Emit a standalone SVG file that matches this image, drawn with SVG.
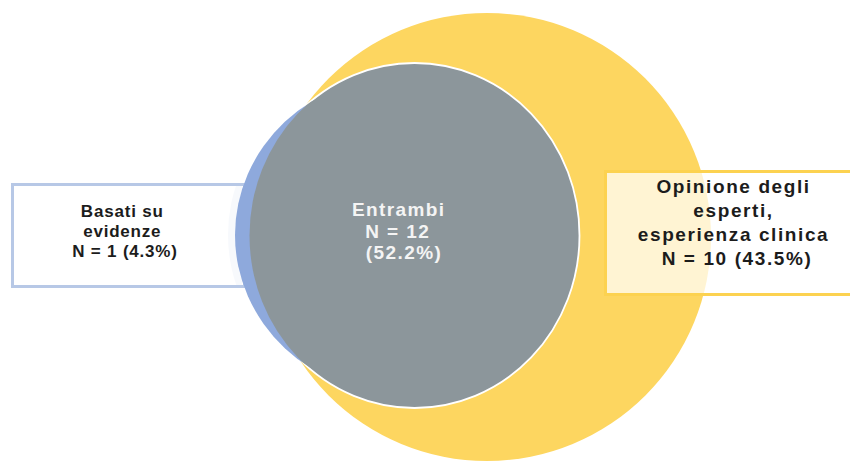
<svg xmlns="http://www.w3.org/2000/svg" width="850" height="462" viewBox="0 0 850 462">
  <style>
    .lbl { font-family: "Liberation Sans", Arial, sans-serif; font-weight: bold; text-anchor: middle; }
    .dark { fill: #1c1c1c; }
    .light { fill: #f4f4f4; }
  </style>
  <defs>
    <clipPath id="leftBoxClip">
      <rect x="12" y="184" width="230" height="103"/>
    </clipPath>
    <mask id="outsideBlue">
      <rect width="850" height="462" fill="#ffffff"/>
      <ellipse cx="405" cy="235" rx="170" ry="160" fill="#000000"/>
    </mask>
  </defs>
  <rect width="850" height="462" fill="#ffffff"/>
  <g id="opinione-circle">
    <circle cx="487" cy="237" r="224" fill="#fdd660"/>
  </g>
  <g id="evidenze-box">
    <ellipse cx="405" cy="235" rx="177" ry="166" fill="#d6def0" clip-path="url(#leftBoxClip)"/>
    <rect x="12.5" y="184.5" width="232" height="102" fill="#ffffff" fill-opacity="0.8" stroke="#b7c8e6" stroke-width="3"/>
    <text class="lbl dark" font-size="17" letter-spacing="0.8">
      <tspan x="125" y="217">Basati su</tspan>
      <tspan x="125" y="237">evidenze</tspan>
      <tspan x="125" y="257">N = 1 (4.3%)</tspan>
    </text>
  </g>
  <g id="evidenze-circle">
    <ellipse cx="405" cy="235" rx="170" ry="160" fill="#8ea9dc"/>
  </g>
  <g id="entrambi">
    <ellipse cx="414.5" cy="235.5" rx="165" ry="172.5" fill="#8c969b"/>
    <ellipse cx="414.5" cy="235.5" rx="165" ry="172.5" fill="none" stroke="#ffffff" stroke-width="1.8" mask="url(#outsideBlue)"/>
    <text class="lbl light" font-size="19" letter-spacing="1.4">
      <tspan x="402" y="216">Entrambi</tspan>
      <tspan x="401" y="238">N = 12</tspan>
      <tspan x="404" y="259">(52.2%)</tspan>
    </text>
  </g>
  <g id="opinione-box">
    <rect x="605.5" y="171.5" width="260" height="123" fill="#ffffff" fill-opacity="0.72" stroke="#fcd250" stroke-width="3"/>
    <text class="lbl dark" font-size="19" letter-spacing="1.6">
      <tspan x="737" y="193">Opinione degli</tspan>
      <tspan x="737" y="217">esperti,</tspan>
      <tspan x="737" y="241">esperienza clinica</tspan>
      <tspan x="737" y="265">N = 10 (43.5%)</tspan>
    </text>
  </g>
</svg>
